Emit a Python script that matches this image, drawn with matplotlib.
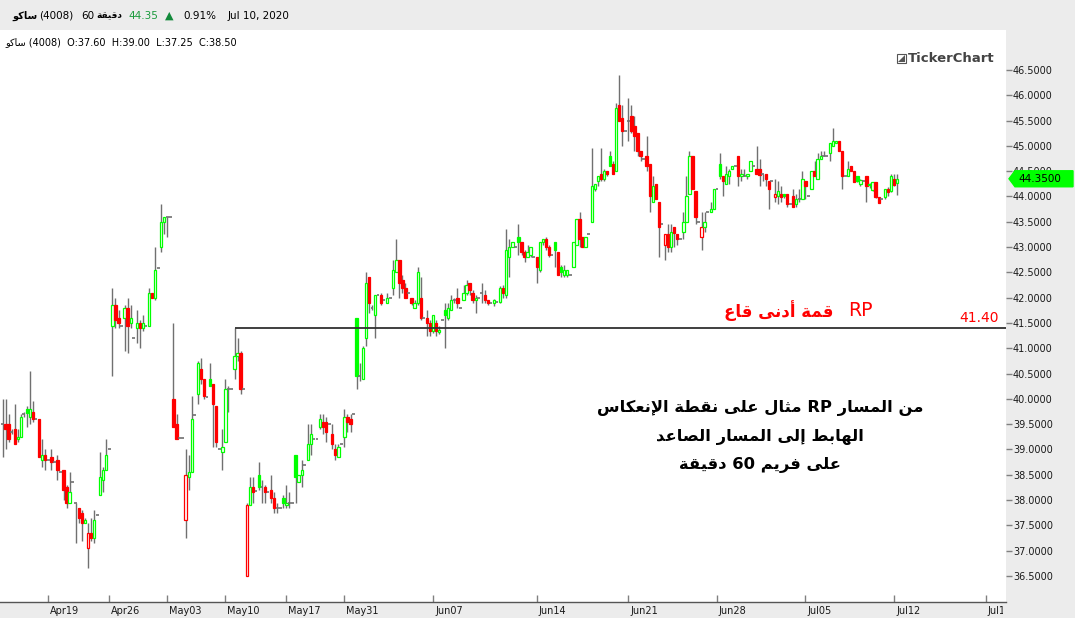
import matplotlib
matplotlib.use("Agg")
import matplotlib.pyplot as plt
import numpy as np
from matplotlib.patches import Rectangle, Polygon
from matplotlib.transforms import blended_transform_factory, ScaledTranslation, Bbox, TransformedBbox

# ---------------- data: 60 minute candles (open, high, low, close) ----------------
bars_apr = [
    (39.5, 40.0, 38.85, 39.5), (39.5, 40.0, 39.0, 39.4), (39.5, 39.7, 39.15, 39.2), (39.35, 39.4, 39.3, 39.35),
    (39.4, 39.9, 39.1, 39.1), (39.2, 39.4, 39.15, 39.25), (39.25, 39.7, 39.25, 39.65), (39.7, 39.75, 39.65, 39.7),
    (39.8, 39.85, 39.45, 39.72), (39.65, 40.55, 39.5, 39.8), (39.75, 39.95, 39.55, 39.6), (39.6, 39.6, 39.6, 39.6),
    (39.6, 39.6, 38.85, 38.85), (38.8, 39.2, 38.65, 38.9), (38.9, 39.0, 38.6, 38.8), (38.8, 38.8, 38.8, 38.8),
    (38.85, 39.0, 38.6, 38.75), (38.75, 38.75, 38.75, 38.75), (38.8, 38.9, 38.4, 38.6), (38.55, 38.55, 38.55, 38.55),
    (38.6, 38.6, 38.0, 38.2), (38.25, 38.3, 37.85, 37.95), (37.95, 38.55, 37.95, 38.15), (38.35, 38.35, 38.35, 38.35),
    (37.95, 37.95, 37.15, 37.95), (37.85, 37.85, 37.55, 37.65), (37.75, 37.8, 37.2, 37.55), (37.55, 37.65, 37.55, 37.6),
    (37.05, 37.55, 36.65, 37.35), (37.35, 37.65, 37.2, 37.25), (37.25, 37.8, 37.15, 37.6), (37.7, 37.7, 37.7, 37.7),
    (38.1, 38.95, 38.1, 38.45), (38.4, 38.65, 38.15, 38.6), (38.6, 39.2, 38.6, 38.9), (39.0, 39.0, 39.0, 39.0),
    (41.45, 42.2, 40.45, 41.85), (41.85, 42.0, 41.4, 41.55), (41.6, 41.75, 41.4, 41.5), (41.45, 41.45, 41.45, 41.45),
    (41.6, 41.85, 40.95, 41.8), (41.8, 42.0, 40.9, 41.45), (41.5, 41.85, 41.4, 41.6), (41.2, 41.2, 41.2, 41.2),
    (41.4, 41.75, 41.1, 41.5), (41.5, 41.55, 41.0, 41.4), (41.4, 41.65, 41.35, 41.5), (41.45, 41.45, 41.45, 41.45),
    (41.45, 42.2, 41.45, 42.1), (42.1, 42.1, 42.0, 42.0), (42.0, 43.0, 41.95, 42.55), (42.58, 42.58, 42.58, 42.58),
    (43.0, 43.85, 42.9, 43.5), (43.5, 43.6, 43.25, 43.6), (43.6, 43.6, 43.2, 43.6), (43.6, 43.6, 43.6, 43.6),
]

bars_may = [
    (40.0, 41.5, 39.45, 39.45), (39.5, 39.7, 39.2, 39.2), (39.22, 39.22, 39.22, 39.22), (39.22, 39.22, 39.22, 39.22),
    (37.6, 39.0, 37.25, 38.5), (38.45, 38.9, 38.2, 38.55), (38.55, 40.05, 38.55, 39.6), (39.68, 39.68, 39.68, 39.68),
    (40.1, 40.75, 39.9, 40.7), (40.6, 40.8, 40.3, 40.4), (40.4, 40.4, 40.0, 40.05), (40.03, 40.03, 40.03, 40.03),
    (40.4, 40.7, 40.25, 40.25), (40.3, 40.3, 39.05, 39.9), (39.85, 39.85, 39.05, 39.15), (39.0, 39.0, 39.0, 39.0),
    (38.95, 39.4, 38.6, 39.05), (39.15, 40.4, 39.15, 40.2), (40.2, 40.25, 39.75, 40.2), (40.2, 40.2, 40.2, 40.2),
    (40.6, 41.4, 40.4, 40.85), (40.85, 41.2, 40.75, 40.9), (40.9, 40.95, 40.1, 40.2), (40.2, 40.2, 40.2, 40.2),
    (36.5, 37.95, 36.5, 37.9), (37.9, 38.45, 37.9, 38.25), (38.25, 38.45, 37.95, 38.15), (38.17, 38.17, 38.17, 38.17),
    (38.5, 38.75, 38.2, 38.25), (38.25, 38.4, 37.95, 38.25), (38.25, 38.3, 37.95, 38.15), (38.15, 38.15, 38.15, 38.15),
    (38.2, 38.5, 37.95, 38.05), (38.05, 38.15, 37.75, 37.85), (37.85, 37.95, 37.75, 37.85), (37.85, 37.85, 37.85, 37.85),
    (38.05, 38.1, 37.85, 37.95), (37.9, 38.3, 37.85, 37.95), (37.95, 38.15, 37.85, 37.95), (37.95, 37.95, 37.95, 37.95),
    (38.9, 38.9, 37.95, 38.45), (38.35, 38.5, 38.35, 38.5), (38.5, 38.8, 38.25, 38.6), (38.7, 38.7, 38.7, 38.7),
    (38.8, 39.5, 38.8, 39.1), (39.1, 39.5, 38.9, 39.3), (39.2, 39.2, 39.2, 39.2), (39.2, 39.2, 39.2, 39.2),
    (39.45, 39.7, 39.4, 39.6), (39.55, 39.7, 39.3, 39.45), (39.55, 39.65, 39.15, 39.35), (39.5, 39.5, 39.5, 39.5),
    (39.3, 39.5, 39.0, 39.1), (39.0, 39.1, 38.8, 38.9), (38.85, 39.1, 38.85, 39.05), (39.1, 39.1, 39.1, 39.1),
    (39.25, 39.8, 39.05, 39.65), (39.65, 39.7, 39.35, 39.55), (39.6, 39.7, 39.35, 39.5), (39.7, 39.7, 39.7, 39.7),
]

bars_jun = [
    (41.6, 41.6, 40.2, 40.45), (40.45, 40.7, 40.35, 40.45), (40.4, 41.05, 40.4, 41.0), (41.2, 42.5, 41.05, 42.3),
    (42.4, 42.4, 41.7, 41.9), (41.8, 41.85, 41.75, 41.8), (41.65, 42.05, 41.2, 42.05), (42.05, 42.05, 42.05, 42.05),
    (42.05, 42.1, 41.85, 41.9), (41.95, 41.95, 41.95, 41.95), (41.9, 42.1, 41.9, 42.0), (42.0, 42.0, 42.0, 42.0),
    (42.2, 42.75, 42.05, 42.55), (42.5, 43.15, 42.5, 42.75), (42.75, 42.75, 42.0, 42.3), (42.35, 42.45, 42.1, 42.2),
    (42.2, 42.3, 42.0, 42.0), (42.1, 42.1, 42.1, 42.1), (42.0, 42.0, 41.85, 41.9), (41.8, 41.95, 41.8, 41.9),
    (41.9, 42.6, 41.85, 42.5), (42.0, 42.4, 41.55, 41.6), (41.6, 41.6, 41.6, 41.6), (41.6, 41.75, 41.25, 41.5),
    (41.5, 41.55, 41.25, 41.35), (41.35, 41.65, 41.3, 41.65), (41.5, 41.55, 41.25, 41.35), (41.32, 41.45, 41.28, 41.37),
    (41.55, 41.55, 41.55, 41.55), (41.75, 41.9, 41.0, 41.65), (41.6, 41.9, 41.55, 41.8), (41.75, 42.05, 41.75, 41.95),
    (41.95, 42.0, 41.9, 41.95), (42.0, 42.2, 41.8, 41.9), (41.8, 41.8, 41.8, 41.8), (41.95, 42.25, 41.95, 42.1),
    (42.1, 42.35, 42.05, 42.25), (42.3, 42.3, 42.05, 42.15), (42.1, 42.15, 41.9, 41.95), (41.95, 42.05, 41.7, 42.0),
    (42.0, 42.0, 42.0, 42.0), (42.1, 42.3, 41.9, 42.1), (42.05, 42.15, 41.9, 41.95), (41.95, 41.95, 41.85, 41.9),
    (41.9, 41.9, 41.9, 41.9), (41.9, 41.97, 41.83, 41.95), (41.92, 41.92, 41.92, 41.92), (41.92, 42.23, 41.9, 42.2),
    (42.2, 42.25, 42.0, 42.1), (42.05, 43.35, 42.0, 42.95), (42.8, 43.15, 42.4, 43.0), (43.0, 43.1, 43.0, 43.1),
    (43.0, 43.0, 43.0, 43.0), (43.2, 43.45, 42.85, 43.1), (43.1, 43.1, 42.85, 42.9), (42.9, 42.95, 42.7, 42.8),
    (42.8, 43.05, 42.8, 42.9), (42.85, 43.0, 42.8, 43.0), (42.8, 42.8, 42.8, 42.8), (42.8, 42.8, 42.3, 42.6),
    (42.55, 43.1, 42.5, 43.1), (43.1, 43.15, 43.05, 43.15), (43.15, 43.2, 42.95, 43.0), (43.0, 43.05, 42.8, 42.85),
    (42.85, 42.85, 42.85, 42.85), (43.1, 43.1, 42.6, 42.95), (42.9, 42.9, 42.45, 42.45), (42.6, 42.65, 42.4, 42.5),
    (42.45, 42.65, 42.4, 42.55), (42.45, 42.55, 42.4, 42.55), (42.45, 42.45, 42.45, 42.45), (42.6, 43.1, 42.6, 43.1),
    (43.05, 43.55, 43.05, 43.55), (43.55, 43.7, 43.0, 43.15), (43.2, 43.2, 43.0, 43.0), (43.0, 43.2, 43.0, 43.2),
    (43.25, 43.25, 43.25, 43.25), (43.5, 44.95, 43.5, 44.2), (44.15, 44.25, 44.1, 44.25), (44.3, 44.4, 44.2, 44.4),
    (44.45, 44.95, 44.3, 44.35), (44.35, 44.55, 44.3, 44.5), (44.5, 44.5, 44.4, 44.45), (44.8, 44.9, 44.6, 44.6),
    (44.65, 44.7, 44.45, 44.45),
]

bars_jul = [
    (44.5, 45.85, 44.5, 45.75), (45.8, 46.4, 45.5, 45.5), (45.55, 45.8, 45.0, 45.3), (45.3, 45.3, 45.3, 45.3),
    (45.5, 45.95, 45.1, 45.5), (45.6, 45.8, 45.25, 45.3), (45.4, 45.6, 44.9, 45.2), (45.25, 45.25, 44.8, 44.9),
    (44.9, 44.9, 44.7, 44.8), (44.75, 44.75, 44.75, 44.75), (44.8, 45.2, 44.5, 44.6), (44.65, 44.65, 43.7, 44.0),
    (43.9, 44.4, 43.9, 44.2), (44.25, 44.25, 43.95, 43.95), (43.9, 43.9, 42.8, 43.4), (43.45, 43.45, 43.45, 43.45),
    (43.05, 43.25, 42.75, 43.25), (43.25, 43.45, 42.9, 43.0), (43.0, 43.45, 42.9, 43.3), (43.4, 43.4, 43.0, 43.28),
    (43.25, 43.25, 43.05, 43.15), (43.15, 43.15, 43.15, 43.15), (43.3, 43.7, 43.15, 43.5), (43.5, 44.4, 43.5, 44.0),
    (44.05, 44.9, 44.05, 44.8), (44.8, 44.8, 44.15, 44.15), (44.1, 44.1, 43.45, 43.6), (43.5, 43.5, 43.5, 43.5),
    (43.2, 43.7, 42.95, 43.4), (43.4, 43.7, 43.3, 43.5), (43.7, 43.7, 43.7, 43.7), (43.7, 43.9, 43.7, 43.75),
    (43.75, 44.15, 43.75, 44.15), (44.15, 44.15, 44.15, 44.15), (44.65, 44.85, 44.35, 44.4), (44.4, 44.4, 44.0, 44.3),
    (44.25, 44.6, 44.25, 44.45), (44.4, 44.55, 44.25, 44.5), (44.55, 44.6, 44.55, 44.6), (44.6, 44.6, 44.6, 44.6),
    (44.8, 44.8, 44.2, 44.4), (44.4, 44.55, 44.3, 44.45), (44.4, 44.55, 44.4, 44.4), (44.4, 44.45, 44.35, 44.45),
    (44.5, 44.7, 44.5, 44.7), (44.6, 44.6, 44.6, 44.6), (44.55, 45.0, 44.45, 44.45), (44.55, 44.75, 44.2, 44.42),
    (44.45, 44.45, 44.3, 44.45), (44.45, 44.45, 44.2, 44.35), (44.3, 44.3, 43.75, 44.15), (44.3, 44.3, 44.3, 44.3),
    (43.98, 44.35, 43.9, 44.05), (44.0, 44.3, 43.85, 44.1), (44.05, 44.2, 43.9, 43.98), (44.05, 44.05, 43.97, 44.0),
    (44.05, 44.05, 43.8, 43.85), (43.85, 43.85, 43.85, 43.85), (44.0, 44.15, 43.8, 43.8), (43.85, 44.05, 43.8, 43.95),
    (43.95, 44.15, 43.9, 43.95), (43.95, 44.5, 43.95, 44.35), (44.3, 44.3, 43.95, 44.2), (44.0, 44.0, 44.0, 44.0),
    (44.15, 44.5, 44.15, 44.5), (44.5, 44.7, 44.4, 44.4), (44.35, 44.85, 44.35, 44.75), (44.75, 44.9, 44.75, 44.8),
    (44.8, 44.9, 44.8, 44.8), (44.8, 44.8, 44.8, 44.8), (44.85, 45.05, 44.7, 45.05), (45.0, 45.35, 45.0, 45.1),
    (45.05, 45.1, 45.05, 45.1), (45.1, 45.1, 44.9, 44.9), (44.9, 44.9, 44.15, 44.4), (44.4, 44.4, 44.4, 44.4),
    (44.4, 44.7, 44.4, 44.55), (44.6, 44.6, 44.5, 44.5), (44.5, 44.5, 44.28, 44.28), (44.4, 44.4, 44.28, 44.3),
    (44.25, 44.35, 44.2, 44.32), (44.3, 44.3, 44.3, 44.3), (44.4, 44.4, 43.9, 44.2), (44.25, 44.27, 44.17, 44.22),
    (44.13, 44.28, 44.1, 44.28), (44.28, 44.28, 43.97, 43.98), (43.98, 43.98, 43.88, 43.88), (43.95, 43.95, 43.95, 43.95),
    (43.98, 44.14, 43.96, 44.14), (44.14, 44.19, 44.01, 44.08), (44.1, 44.45, 44.08, 44.4), (44.34, 44.45, 44.21, 44.23),
    (44.27, 44.45, 44.03, 44.35),
]

week_ticks = [15, 35, 54, 73, 93, 112, 141, 175, 205, 234, 263, 292, 322]
week_labels = ["Apr19", "Apr26", "May03", "May10", "May17", "May31", "Jun07",
               "Jun14", "Jun21", "Jun28", "Jul05", "Jul12", "Jul19"]

rp_level = 41.40
rp_start = 76          # candle where the RP line starts

# ---------------- Arabic shaping (matplotlib has no bidi) ----------------
AR = {
    '\u0621': ('\uFE80', None, None, None), '\u0622': ('\uFE81', '\uFE82', None, None),
    '\u0623': ('\uFE83', '\uFE84', None, None), '\u0624': ('\uFE85', '\uFE86', None, None),
    '\u0625': ('\uFE87', '\uFE88', None, None), '\u0626': ('\uFE89', '\uFE8A', '\uFE8B', '\uFE8C'),
    '\u0627': ('\uFE8D', '\uFE8E', None, None), '\u0628': ('\uFE8F', '\uFE90', '\uFE91', '\uFE92'),
    '\u0629': ('\uFE93', '\uFE94', None, None), '\u062A': ('\uFE95', '\uFE96', '\uFE97', '\uFE98'),
    '\u062B': ('\uFE99', '\uFE9A', '\uFE9B', '\uFE9C'), '\u062C': ('\uFE9D', '\uFE9E', '\uFE9F', '\uFEA0'),
    '\u062D': ('\uFEA1', '\uFEA2', '\uFEA3', '\uFEA4'), '\u062E': ('\uFEA5', '\uFEA6', '\uFEA7', '\uFEA8'),
    '\u062F': ('\uFEA9', '\uFEAA', None, None), '\u0630': ('\uFEAB', '\uFEAC', None, None),
    '\u0631': ('\uFEAD', '\uFEAE', None, None), '\u0632': ('\uFEAF', '\uFEB0', None, None),
    '\u0633': ('\uFEB1', '\uFEB2', '\uFEB3', '\uFEB4'), '\u0634': ('\uFEB5', '\uFEB6', '\uFEB7', '\uFEB8'),
    '\u0635': ('\uFEB9', '\uFEBA', '\uFEBB', '\uFEBC'), '\u0636': ('\uFEBD', '\uFEBE', '\uFEBF', '\uFEC0'),
    '\u0637': ('\uFEC1', '\uFEC2', '\uFEC3', '\uFEC4'), '\u0638': ('\uFEC5', '\uFEC6', '\uFEC7', '\uFEC8'),
    '\u0639': ('\uFEC9', '\uFECA', '\uFECB', '\uFECC'), '\u063A': ('\uFECD', '\uFECE', '\uFECF', '\uFED0'),
    '\u0641': ('\uFED1', '\uFED2', '\uFED3', '\uFED4'), '\u0642': ('\uFED5', '\uFED6', '\uFED7', '\uFED8'),
    '\u0643': ('\uFED9', '\uFEDA', '\uFEDB', '\uFEDC'), '\u0644': ('\uFEDD', '\uFEDE', '\uFEDF', '\uFEE0'),
    '\u0645': ('\uFEE1', '\uFEE2', '\uFEE3', '\uFEE4'), '\u0646': ('\uFEE5', '\uFEE6', '\uFEE7', '\uFEE8'),
    '\u0647': ('\uFEE9', '\uFEEA', '\uFEEB', '\uFEEC'), '\u0648': ('\uFEED', '\uFEEE', None, None),
    '\u0649': ('\uFEEF', '\uFEF0', None, None), '\u064A': ('\uFEF1', '\uFEF2', '\uFEF3', '\uFEF4'),
}
LAM_ALEF = {'\u0622': ('\uFEF5', '\uFEF6'), '\u0623': ('\uFEF7', '\uFEF8'),
            '\u0625': ('\uFEF9', '\uFEFA'), '\u0627': ('\uFEFB', '\uFEFC')}


def shape(word):
    toks = []
    i = 0
    while i < len(word):
        if word[i] == '\u0644' and i + 1 < len(word) and word[i + 1] in LAM_ALEF:
            toks.append(('LA', word[i + 1]))
            i += 2
        else:
            toks.append(('C', word[i]))
            i += 1

    def joins_next(t):
        return t[0] == 'C' and t[1] in AR and AR[t[1]][2] is not None

    def is_ar(t):
        return t[0] == 'LA' or t[1] in AR

    out = []
    for k, t in enumerate(toks):
        jp = k > 0 and joins_next(toks[k - 1]) and is_ar(t)
        if t[0] == 'LA':
            out.append(LAM_ALEF[t[1]][1 if jp else 0])
            continue
        f = AR.get(t[1])
        if f is None:
            out.append(t[1])
            continue
        jn = k + 1 < len(toks) and is_ar(toks[k + 1]) and f[2] is not None
        g = f[3] if (jp and jn) else f[1] if jp else f[2] if jn else f[0]
        out.append(g or f[0])
    return ''.join(out)


def vis(s):
    words = []
    for w in s.split(' '):
        if any('\u0600' <= ch <= '\u06ff' for ch in w):
            words.append(shape(w)[::-1])
        else:
            words.append(w)
    return ' '.join(words[::-1])


# ---------------- figure ----------------
W, H = 1075, 618
fig = plt.figure(figsize=(W / 100, H / 100), dpi=100)
fig.patch.set_facecolor('white')


def fx(px):
    return px / W


def fy(py):
    return 1 - py / H


PANEL = '#ececec'
fig.patches.append(Rectangle((0, fy(30)), 1, 30 / H, transform=fig.transFigure, color=PANEL, zorder=-2))
fig.patches.append(Rectangle((fx(1006), 0), 1 - fx(1006), fy(30), transform=fig.transFigure, color=PANEL, zorder=-2))
fig.patches.append(Rectangle((0, 0), 1, 16 / H, transform=fig.transFigure, color=PANEL, zorder=-2))

ax = fig.add_axes([0, fy(602), fx(1006), fy(30) - fy(602)])
bars = bars_apr + bars_may + bars_jun + bars_jul
o = np.array([b[0] for b in bars])
h = np.array([b[1] for b in bars])
l = np.array([b[2] for b in bars])
c = np.array([b[3] for b in bars])
x = np.arange(len(bars))

WICK = '#707070'
GREEN = '#00ff00'
RED = '#ff0000'
prev = np.concatenate([[c[0]], c[:-1]])
col = np.where(c >= prev, GREEN, RED)
hollow = c > o
doji = np.isclose(o, c)

ax.vlines(x, l, h, color=WICK, lw=1.0, zorder=2)
nb = ~doji
ax.bar(x[nb], (c - o)[nb], bottom=o[nb], width=0.78,
       facecolor=np.where(hollow, 'white', col)[nb], edgecolor=col[nb], linewidth=0.9, zorder=3)
ax.hlines(c[doji], x[doji] - 0.45, x[doji] + 0.45, color=WICK, lw=1.2, zorder=3)

xmax = (1006 - 2.5) / 3.053
ax.set_xlim(-2.5 / 3.053, xmax)
ax.set_ylim(35.986, 47.29)

# RP line
ax.hlines(rp_level, rp_start, xmax, color='#303030', lw=1.3, zorder=4)

# axes styling
for s in ['top', 'left', 'right']:
    ax.spines[s].set_visible(False)
ax.spines['bottom'].set_color('#555555')
ax.spines['bottom'].set_linewidth(1.0)

ax.yaxis.tick_right()
yt = [36.5 + 0.5 * k for k in range(21)]
ax.set_yticks(yt)
ax.set_yticklabels(['%.4f' % v for v in yt])
ax.tick_params(axis='y', direction='out', length=4, width=1, color='#808080', pad=1,
               labelsize=7, labelcolor='#1a1a1a')

ax.set_xticks(week_ticks)
ax.set_xticklabels(week_labels)
ax.tick_params(axis='x', direction='in', length=5, width=1, color='#808080', pad=3,
               labelsize=7, labelcolor='#1a1a1a')
shift = ScaledTranslation(2 / 100, 0, fig.dpi_scale_trans)
clip = TransformedBbox(Bbox([[0, 0], [fx(1003), 1]]), fig.transFigure)
for lbl in ax.get_xticklabels():
    lbl.set_ha('left')
    lbl.set_transform(lbl.get_transform() + shift)
    lbl.set_clip_box(clip)
    lbl.set_clip_on(True)

# last price tag
bt = blended_transform_factory(fig.transFigure, ax.transData)
last = c[-1]
dh = 8 / 50.6
tag = Polygon([(fx(1009), last), (fx(1015), last + dh), (fx(1073), last + dh),
               (fx(1073), last - dh), (fx(1015), last - dh)],
              closed=True, transform=bt, facecolor=GREEN, edgecolor=GREEN, zorder=5, clip_on=False)
fig.patches.append(tag)
fig.text(fx(1018), fy(179.5), '%.4f' % last, fontsize=7.5, color='black', va='center', ha='left', zorder=6)

# header
hy = fy(16)
fig.text(fx(12), hy, vis('ساكو'), fontsize=7, fontweight='bold', va='center', ha='left')
fig.text(fx(39), hy, '(4008)', fontsize=7.5, va='center', ha='left')
fig.text(fx(81), hy, '60', fontsize=7.5, va='center', ha='left')
fig.text(fx(96), hy, vis('دقيقة'), fontsize=6.5, fontweight='bold', va='center', ha='left')
fig.text(fx(128), hy, '44.35', fontsize=7.5, color='#1a9a3c', va='center', ha='left')
fig.text(fx(169), hy, '\u25B2', fontsize=8, color='#12893a', va='center', ha='center')
fig.text(fx(183), hy, '0.91%', fontsize=7.5, va='center', ha='left')
fig.text(fx(228), hy, 'Jul 10, 2020', fontsize=7.5, va='center', ha='left')

# sub header (hovered candle)
fig.text(fx(5), fy(42), vis('ساكو') + ' (4008)  O:37.60  H:39.00  L:37.25  C:38.50',
         fontsize=7, va='center', ha='left')

# logo
fig.patches.append(Rectangle((fx(897), fy(63)), fx(9), 9 / H, transform=fig.transFigure,
                             facecolor='white', edgecolor='#555555', lw=0.8, zorder=5))
fig.patches.append(Polygon([(fx(898), fy(62)), (fx(905), fy(62)), (fx(905), fy(55))],
                           transform=fig.transFigure, facecolor='#555555', zorder=6))
fig.text(fx(908), fy(59), 'TickerChart', fontsize=9.5, fontweight='bold', color='#444444',
         va='center', ha='left')

# annotations
fig.text(fx(833), fy(311), vis('قمة أدنى قاع'), fontsize=12, fontweight='bold', color=RED,
         va='center', ha='right')
fig.text(fx(848), fy(311), 'RP', fontsize=13.5, color=RED, va='center', ha='left')
fig.text(fx(999), fy(318), '41.40', fontsize=10, color=RED, va='center', ha='right')

line1 = vis('مثال على نقطة الإنعكاس') + ' RP ' + vis('من المسار')
line2 = vis('الهابط إلى المسار الصاعد')
line3 = vis('على فريم 60 دقيقة')
for txt, yy in [(line1, 408), (line2, 437), (line3, 465)]:
    fig.text(fx(760), fy(yy), txt, fontsize=11.8, fontweight='bold', color='black',
             va='center', ha='center')

fig.savefig('out.png', dpi=100)
